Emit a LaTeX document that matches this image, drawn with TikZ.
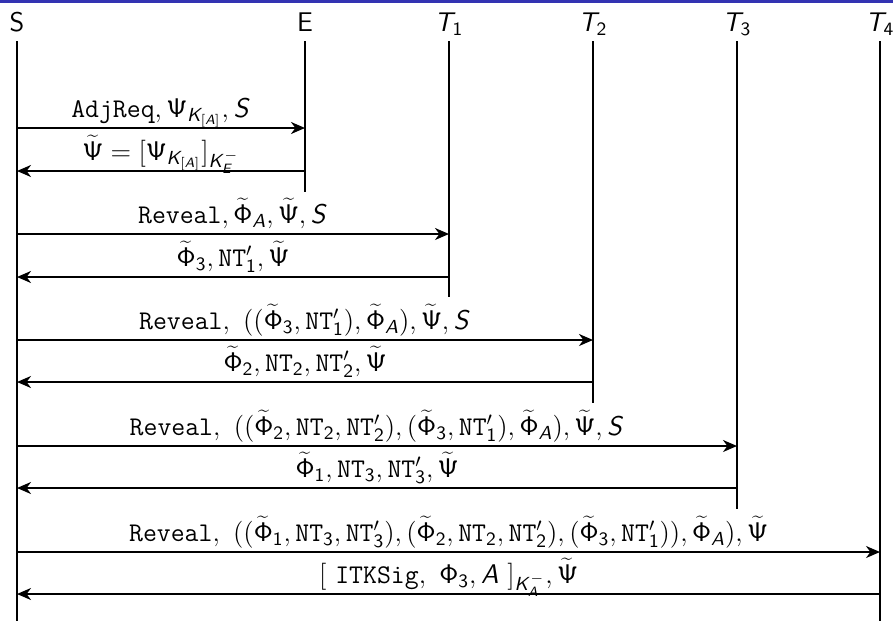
\RequirePackage{fix-cm}
\documentclass[tikz,border=0pt]{standalone}
\usetikzlibrary{arrows.meta}
% sans-serif math: upright sans for digits and Greek, slanted sans for letters
\DeclareSymbolFont{sfupright}{OT1}{cmss}{m}{n}
\DeclareSymbolFont{sfslanted}{OT1}{cmss}{m}{sl}
\DeclareMathSymbol{A}{\mathalpha}{sfslanted}{`A}
\DeclareMathSymbol{E}{\mathalpha}{sfslanted}{`E}
\DeclareMathSymbol{K}{\mathalpha}{sfslanted}{`K}
\DeclareMathSymbol{S}{\mathalpha}{sfslanted}{`S}
\DeclareMathSymbol{T}{\mathalpha}{sfslanted}{`T}
\DeclareMathSymbol{1}{\mathalpha}{sfupright}{`1}
\DeclareMathSymbol{2}{\mathalpha}{sfupright}{`2}
\DeclareMathSymbol{3}{\mathalpha}{sfupright}{`3}
\DeclareMathSymbol{4}{\mathalpha}{sfupright}{`4}
\DeclareMathSymbol{\Phi}{\mathalpha}{sfupright}{"08}
\DeclareMathSymbol{\Psi}{\mathalpha}{sfupright}{"09}
\definecolor{framebar}{rgb}{0.2,0.2,0.7}
\newcommand{\tPhi}{\widetilde{\Phi}}
% narrow the accent base so the small tilde is chosen
\newcommand{\tPsi}{\mkern2mu\widetilde{\mkern-2mu\Psi\mkern-2mu}\mkern2mu}
\newcommand{\nt}{\mathtt{NT}}
\begin{document}
\begin{tikzpicture}[x=0.5pt,y=-0.5pt,
  lifeline/.style={line width=0.9pt},
  msg/.style={line width=0.9pt,-{Stealth[length=7pt,width=6pt,inset=2.2pt]}},
  party/.style={anchor=base,inner sep=0pt,font=\fontsize{13.5}{15}\selectfont\sffamily},
  lbl/.style={midway,anchor=base,yshift=5.5pt,inner sep=0pt,font=\fontsize{13.5}{15}\selectfont}]
\useasboundingbox (0,0) rectangle (893,621);
% frame bar along the top edge
\fill[framebar] (0,0) rectangle (893,2.7);

% participants
\node[party] (S)  at (17,31.5)  {S};
\node[party] (E)  at (305,31.5) {E};
\node[party] (T1) at (449,31.5) {$T_1$};
\node[party] (T2) at (593,31.5) {$T_2$};
\node[party] (T3) at (737,31.5) {$T_3$};
\node[party] (T4) at (880,31.5) {$T_4$};

% lifelines
\coordinate (S-top)  at (17,41);  \coordinate (S-end)  at (17,621);
\coordinate (E-top)  at (305,41); \coordinate (E-end)  at (305,192);
\coordinate (T1-top) at (449,41); \coordinate (T1-end) at (449,297);
\coordinate (T2-top) at (593,41); \coordinate (T2-end) at (593,403);
\coordinate (T3-top) at (737,41); \coordinate (T3-end) at (737,509);
\coordinate (T4-top) at (880,41); \coordinate (T4-end) at (880,621);
\foreach \p in {S,E,T1,T2,T3,T4}
  \draw[lifeline] (\p-top) -- (\p-end);

% messages
\draw[msg] (S-top |- 0,128) -- (E-top |- 0,128)
  node[lbl] {$\texttt{AdjReq}, \Psi_{K_{[A]}}, S$};
\draw[msg] (E-top |- 0,171) -- (S-top |- 0,171)
  node[lbl] {$\tPsi = [\Psi_{K_{[A]}}]_{K_E^-}$};

\draw[msg] (S-top |- 0,234) -- (T1-top |- 0,234)
  node[lbl] {$\texttt{Reveal}, \tPhi_A, \tPsi, S$};
\draw[msg] (T1-top |- 0,277) -- (S-top |- 0,277)
  node[lbl] {$\tPhi_3, \nt'_1, \tPsi$};

\draw[msg] (S-top |- 0,340) -- (T2-top |- 0,340)
  node[lbl] {$\texttt{Reveal},\ ((\tPhi_3, \nt'_1), \tPhi_A), \tPsi, S$};
\draw[msg] (T2-top |- 0,382) -- (S-top |- 0,382)
  node[lbl] {$\tPhi_2, \nt_2, \nt'_2, \tPsi$};

\draw[msg] (S-top |- 0,446) -- (T3-top |- 0,446)
  node[lbl] {$\texttt{Reveal},\ ((\tPhi_2, \nt_2, \nt'_2), (\tPhi_3, \nt'_1), \tPhi_A), \tPsi, S$};
\draw[msg] (T3-top |- 0,488) -- (S-top |- 0,488)
  node[lbl] {$\tPhi_1, \nt_3, \nt'_3, \tPsi$};

\draw[msg] (S-top |- 0,552) -- (T4-top |- 0,552)
  node[lbl] {$\texttt{Reveal},\ ((\tPhi_1, \nt_3, \nt'_3), (\tPhi_2, \nt_2, \nt'_2), (\tPhi_3, \nt'_1)), \tPhi_A), \tPsi$};
\draw[msg] (T4-top |- 0,594) -- (S-top |- 0,594)
  node[lbl] {$[\ \texttt{ITKSig},\ \Phi_3, A\ ]_{K_A^-}, \tPsi$};
\end{tikzpicture}
\end{document}
